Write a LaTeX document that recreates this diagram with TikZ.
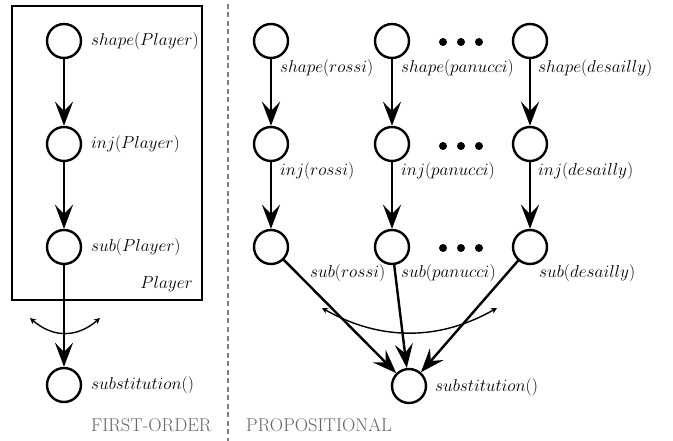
\documentclass[tikz,border=0pt]{standalone}
\usetikzlibrary{arrows.meta}
\begin{document}
\begin{tikzpicture}[x=1pt,y=-1pt,
  var/.style={circle,draw,line width=2.4pt,minimum size=34pt,inner sep=0pt},
  lab/.style={inner sep=0pt,anchor=west,font=\fontsize{17}{20}\selectfont},
  caption/.style={inner sep=0pt,anchor=base west,text=black!60,font=\fontsize{18.5}{22}\selectfont},
  dep/.style={line width=2.4pt,-{Stealth[length=24pt,width=18pt,inset=9pt]}},
  agg/.style={line width=1.4pt,{Stealth[length=6pt,width=6pt]}-{Stealth[length=6pt,width=6pt]}},
  dotn/.style={circle,fill,minimum size=8pt,inner sep=0pt},
  sep/.style={draw=black!50,line width=2.4pt,dash pattern=on 5pt off 3.5pt},
  plate/.style={draw,line width=2.4pt}
]
\useasboundingbox (0,0) rectangle (673,441);

% first-order plate
\draw[plate] (12,6) rectangle (202,300);
\node[inner sep=0pt,anchor=base east,font=\fontsize{17}{20}\selectfont] (platelab) at (193,289) {$Player$};

% first-order nodes
\node[var] (fs) at (64,41) {};
\node[var] (fi) at (64,144) {};
\node[var] (fb) at (64,247) {};
\node[var] (fo) at (64,385) {};
\node[lab] (lfs) at (91,41) {$shape(Player)$};
\node[lab] (lfi) at (91,144) {$inj(Player)$};
\node[lab] (lfb) at (91,247) {$sub(Player)$};
\node[lab] (lfo) at (91,385) {$substitution()$};
\draw[dep] (fs) -- (fi);
\draw[dep] (fi) -- (fb);
\draw[dep] (fb) -- (fo);
\coordinate (fa1) at (30,318);
\coordinate (fa2) at (100,318);
\draw[agg] (fa1) .. controls (53,338) and (77,338) .. (fa2);

% separator
\coordinate (septop) at (228,4);
\coordinate (sepbot) at (228,441);
\draw[sep] (septop) -- (sepbot);

% propositional nodes
\foreach \n/\x in {r/271,p/392,d/530}{
  \node[var] (\n s) at (\x,41) {};
  \node[var] (\n i) at (\x,144) {};
  \node[var] (\n b) at (\x,247) {};
  \draw[dep] (\n s) -- (\n i);
  \draw[dep] (\n i) -- (\n b);
}
\node[var] (po) at (409,386) {};
\draw[dep] (rb) -- (po);
\draw[dep] (pb) -- (po);
\draw[dep] (db) -- (po);

\node[lab] (lrs) at (280,68) {$shape(rossi)$};
\node[lab] (lri) at (280,171) {$inj(rossi)$};
\node[lab] (lrb) at (310,273) {$sub(rossi)$};
\node[lab] (lps) at (401,68) {$shape(panucci)$};
\node[lab] (lpi) at (401,171) {$inj(panucci)$};
\node[lab] (lpb) at (401,273) {$sub(panucci)$};
\node[lab] (lds) at (538,68) {$shape(desailly)$};
\node[lab] (ldi) at (538,171) {$inj(desailly)$};
\node[lab] (ldb) at (539,273) {$sub(desailly)$};
\node[lab] (lpo) at (435,387) {$substitution()$};

\foreach \y [count=\k] in {42,146,248}{
  \node[dotn] (dA\k) at (443,\y) {};
  \node[dotn] (dB\k) at (461,\y) {};
  \node[dotn] (dC\k) at (479,\y) {};
}

\coordinate (pa1) at (322,308);
\coordinate (pa2) at (497,308);
\draw[agg] (pa1) .. controls (380,341) and (439,341) .. (pa2);

% captions
\node[caption] (c1) at (91,431) {FIRST-ORDER};
\node[caption] (c2) at (246,431) {PROPOSITIONAL};
\end{tikzpicture}
\end{document}
